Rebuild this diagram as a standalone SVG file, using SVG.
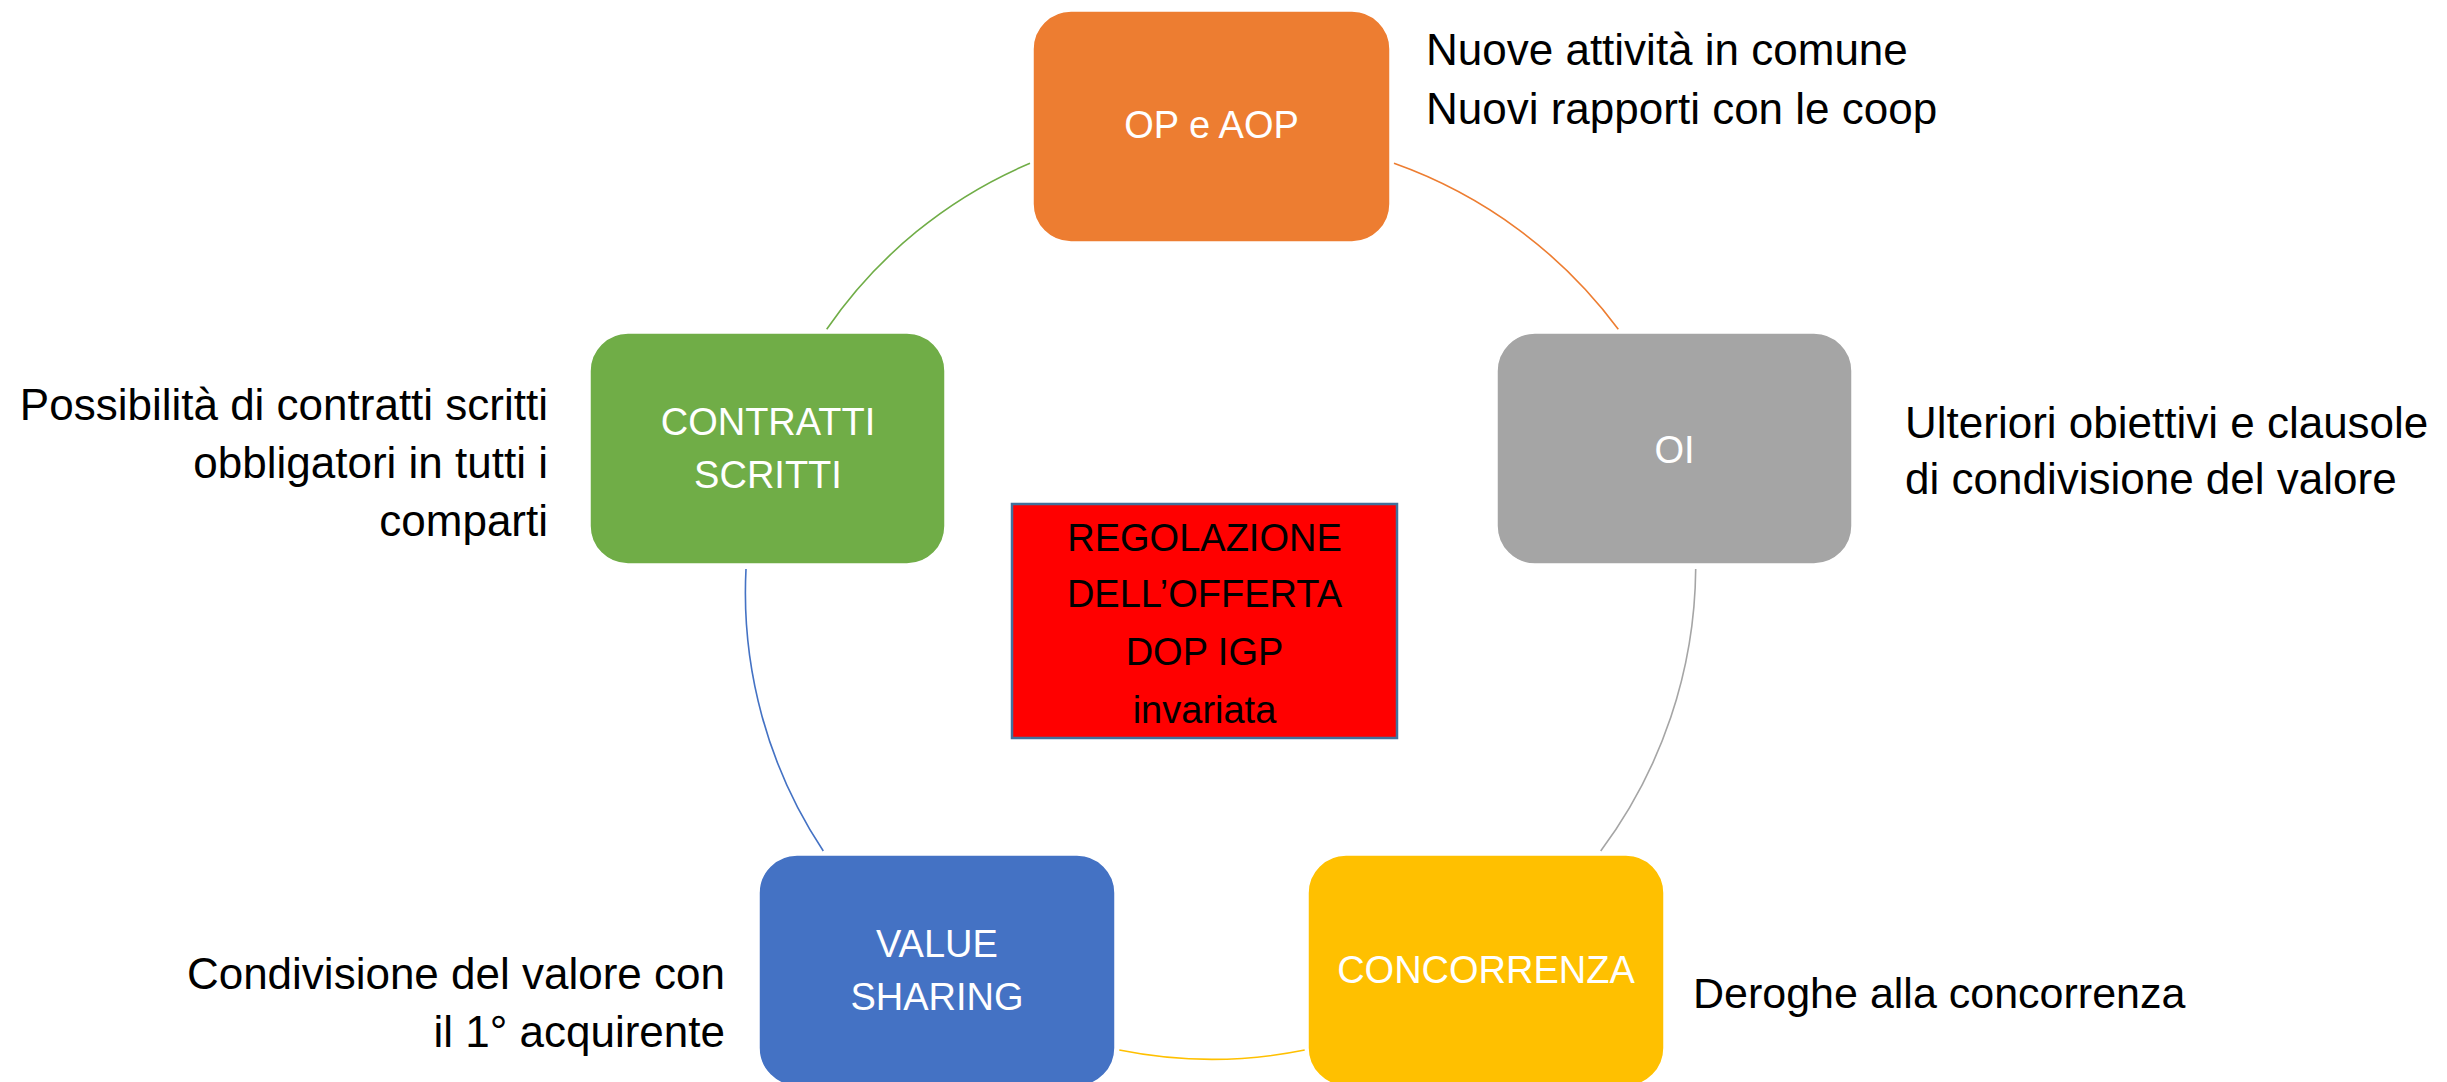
<svg xmlns="http://www.w3.org/2000/svg" width="2447" height="1082" viewBox="0 0 2447 1082">
<style>
  text { font-family: "Liberation Sans", Arial, sans-serif; }
  .lbl { font-size: 38px; fill: #FFFFFF; text-anchor: middle; }
  .ctr { font-size: 38px; fill: #000000; text-anchor: middle; }
  .side { font-size: 44px; fill: #000000; }
  .node { stroke: #FFFFFF; stroke-width: 1.5; }
  .arc { fill: none; stroke-width: 1.6; }
</style>
<rect x="0" y="0" width="2447" height="1082" fill="#FFFFFF"/>
<g id="connectors">
  <path class="arc" stroke="#ED7D31" d="M1394,163.3 A478,478 0 0 1 1618.3,329.3"/>
  <path class="arc" stroke="#A5A5A5" d="M1695.7,569 A478,478 0 0 1 1600.7,851"/>
  <path class="arc" stroke="#FFC000" d="M1304.7,1050 A467,467 0 0 1 1119.3,1050"/>
  <path class="arc" stroke="#4472C4" d="M823.3,851 A467,467 0 0 1 746,569"/>
  <path class="arc" stroke="#70AD47" d="M826.7,329.3 A467,467 0 0 1 1030,163.3"/>
</g>
<g id="node-op">
  <rect class="node" x="1033" y="11" width="357" height="231" rx="38" ry="38" fill="#ED7D31"/>
  <text class="lbl" x="1211.5" y="138">OP e AOP</text>
</g>
<g id="node-oi">
  <rect class="node" x="1497" y="333" width="355" height="231" rx="38" ry="38" fill="#A5A5A5"/>
  <text class="lbl" x="1674.5" y="463">OI</text>
</g>
<g id="node-concorrenza">
  <rect class="node" x="1308" y="855" width="356" height="231" rx="38" ry="38" fill="#FFC000"/>
  <text class="lbl" x="1486" y="983">CONCORRENZA</text>
</g>
<g id="node-value">
  <rect class="node" x="759" y="855" width="356" height="231" rx="38" ry="38" fill="#4472C4"/>
  <text class="lbl" x="937" y="957">VALUE</text>
  <text class="lbl" x="937" y="1010">SHARING</text>
</g>
<g id="node-contratti">
  <rect class="node" x="590" y="333" width="355" height="231" rx="38" ry="38" fill="#70AD47"/>
  <text class="lbl" x="768" y="435">CONTRATTI</text>
  <text class="lbl" x="768" y="488">SCRITTI</text>
</g>
<g id="node-center">
  <rect x="1012" y="504" width="385" height="234" fill="#FF0000" stroke="#41719C" stroke-width="2.5"/>
  <text class="ctr" x="1204.5" y="551">REGOLAZIONE</text>
  <text class="ctr" x="1204.5" y="607">DELL’OFFERTA</text>
  <text class="ctr" x="1204.5" y="665">DOP IGP</text>
  <text class="ctr" x="1204.5" y="723">invariata</text>
</g>
<g id="text-op">
  <text class="side" x="1426" y="65">Nuove attività in comune</text>
  <text class="side" x="1426" y="124">Nuovi rapporti con le coop</text>
</g>
<g id="text-oi">
  <text class="side" x="1905" y="438">Ulteriori obiettivi e clausole</text>
  <text class="side" x="1905" y="494">di condivisione del valore</text>
</g>
<g id="text-concorrenza">
  <text class="side" x="1693" y="1008" style="font-size:43px">Deroghe alla concorrenza</text>
</g>
<g id="text-value">
  <text class="side" x="725" y="989" text-anchor="end">Condivisione del valore con</text>
  <text class="side" x="725" y="1047" text-anchor="end">il 1° acquirente</text>
</g>
<g id="text-contratti">
  <text class="side" x="548" y="420" text-anchor="end">Possibilità di contratti scritti</text>
  <text class="side" x="548" y="478" text-anchor="end">obbligatori in tutti i</text>
  <text class="side" x="548" y="536" text-anchor="end">comparti</text>
</g>
</svg>
